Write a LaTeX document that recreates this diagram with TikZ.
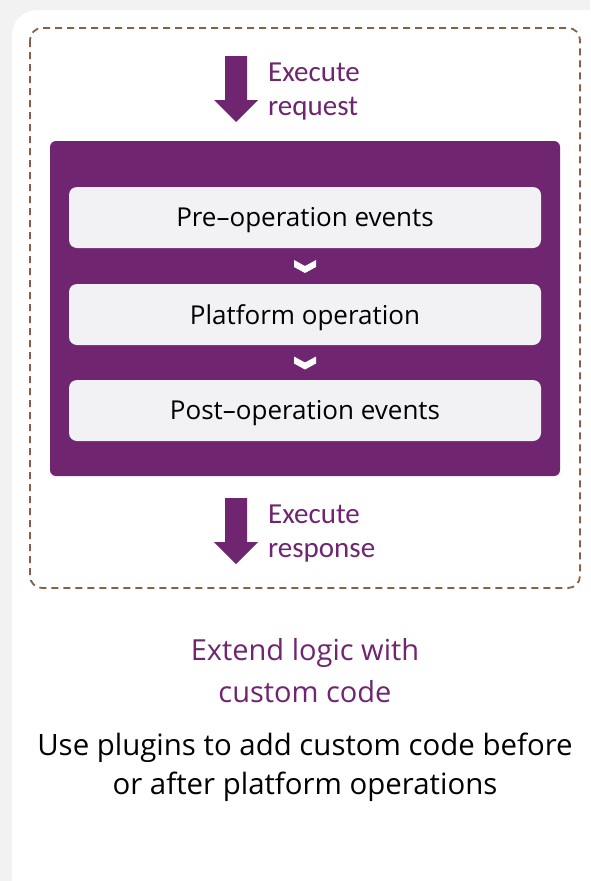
\documentclass[tikz,border=0pt]{standalone}
\usepackage{fontspec}
\setmainfont{Open Sans}
\newfontfamily\calib{Carlito}
\usetikzlibrary{calc}
\definecolor{plum}{HTML}{6F2570}
\definecolor{boxgray}{HTML}{F2F2F4}
\definecolor{dashbrown}{HTML}{8B5E45}
\definecolor{bggray}{HTML}{F2F2F2}
\tikzset{
  x=1pt, y=-1pt,
  stepbox/.style={fill=boxgray, rounded corners=8pt, minimum width=472pt, minimum height=61pt, font=\fontsize{26}{30}\selectfont, text=black, inner sep=0pt},
  steptext/.style={text=black, font=\fontsize{26}{30}\selectfont, inner sep=0pt},
  arrowfill/.style={fill=plum, draw=none},
  arrowlabel/.style={anchor=west, align=left, text=plum, font=\calib\fontsize{29}{34}\selectfont, inner sep=0pt},
  chev/.style={fill=white, draw=none},
  heading/.style={align=center, text=plum, font=\fontsize{29}{42}\selectfont, inner sep=0pt},
  bodytext/.style={align=center, text=black, font=\fontsize{29.4}{39.5}\selectfont, inner sep=0pt}
}
\newcommand{\downarrowat}[1]{%
  \fill[arrowfill] ($(#1)+(-11,-33)$) -- ($(#1)+(11,-33)$) -- ($(#1)+(11,11)$) -- ($(#1)+(22,11)$) -- ($(#1)+(0,33)$) -- ($(#1)+(-22,11)$) -- ($(#1)+(-11,11)$) -- cycle;}
\newcommand{\chevronat}[1]{%
  \fill[chev] ($(#1)+(-11,-6)$) -- ($(#1)+(0,0)$) -- ($(#1)+(11,-6)$) -- ($(#1)+(11,1)$) -- ($(#1)+(0,7)$) -- ($(#1)+(-11,1)$) -- cycle;}
\begin{document}
\begin{tikzpicture}
\useasboundingbox (0,0) rectangle (590,881);
\fill[bggray] (0,0) rectangle (590,881);
\fill[white, rounded corners=25pt] (12,10) rectangle (615,905);
% dashed container
\draw[dashbrown, line width=1.8pt, dash pattern=on 7pt off 5pt, rounded corners=12pt] (30,28) rectangle (580,588);
% request arrow
\coordinate (a1) at (236,89);
\downarrowat{a1}
\node[arrowlabel] (t1) at (268,92) {Execute\\request};
% purple panel
\node[fill=plum, rounded corners=6pt, minimum width=510pt, minimum height=335pt, inner sep=0pt] (panel) at (305,308.5) {};
\node[stepbox] (b1) at (305,217.5) {};
\node[stepbox] (b2) at (305,314.5) {};
\node[stepbox] (b3) at (305,410.5) {};
\node[steptext] (l1) at ($(b1)+(0,3)$) {Pre–operation events};
\node[steptext] (l2) at ($(b2)+(0,3)$) {Platform operation};
\node[steptext] (l3) at ($(b3)+(0,3)$) {Post–operation events};
\coordinate (c1) at ($(b1.south)!0.5!(b2.north)$);
\coordinate (c2) at ($(b2.south)!0.5!(b3.north)$);
\chevronat{c1}
\chevronat{c2}
% response arrow
\coordinate (a2) at (236,531);
\downarrowat{a2}
\node[arrowlabel] (t2) at (268,534) {Execute\\response};
% texts
\node[heading] (h) at (305,671) {Extend logic with\\custom code};
\node[bodytext] (bt) at (305,767.5) {Use plugins to add custom code before\\or after platform operations};
\end{tikzpicture}
\end{document}
